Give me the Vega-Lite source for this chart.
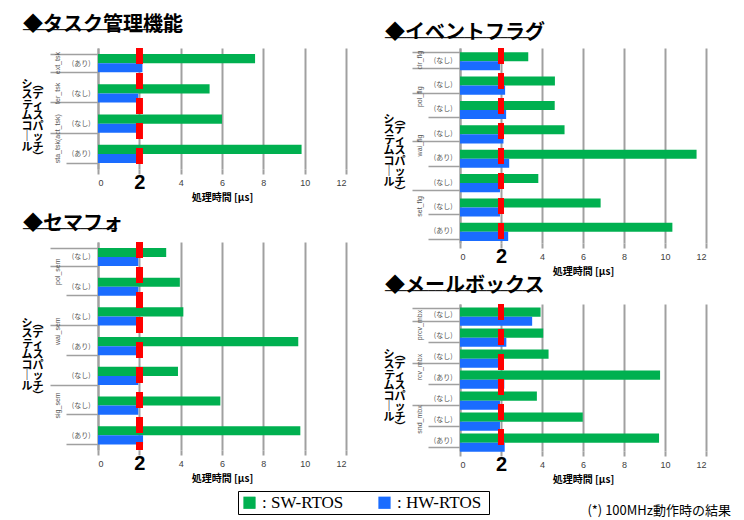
{
  "$schema": "https://vega.github.io/schema/vega-lite/v6.json",
  "padding": {"left": 21, "top": 15, "right": 4, "bottom": 2},
  "background": "white",
  "config": {
    "view": {"stroke": null},
    "font": "Noto Sans CJK JP",
    "title": {"font": "Noto Sans CJK JP", "fontSize": 20, "fontWeight": "bold", "color": "black", "anchor": "start", "frame": "bounds", "dx": 2, "subtitleFont": "DejaVu Sans Mono", "subtitleFontSize": 12, "subtitleColor": "black", "subtitlePadding": -10, "offset": 3},
    "axisX": {"values": [0, 2, 4, 6, 8, 10, 12], "grid": true, "gridColor": "#a0a0a0", "gridWidth": 2, "tickColor": "#a0a0a0", "tickWidth": 2, "tickSize": 5, "domain": false, "labelOverlap": false, "labelFont": "Liberation Sans", "labelFontSize": {"condition": {"test": "datum.value == 2", "value": 20}, "value": 9}, "labelFontWeight": {"condition": {"test": "datum.value == 2", "value": "bold"}, "value": "normal"}, "labelColor": {"condition": {"test": "datum.value == 2", "value": "black"}, "value": "#404040"}, "labelBaseline": "middle", "labelPadding": 8, "titleFontSize": 10, "titleFontWeight": "bold", "titleColor": "black", "titlePadding": 0}
  },
  "data": {"values": [
    {"p": "task", "row": "a*(あり)|ext_tsk", "s": "SW-RTOS", "v": 7.6},
    {"p": "task", "row": "a*(あり)|ext_tsk", "s": "HW-RTOS", "v": 2.15},
    {"p": "task", "row": "b*(なし)|ter_tsk", "s": "SW-RTOS", "v": 5.4},
    {"p": "task", "row": "b*(なし)|ter_tsk", "s": "HW-RTOS", "v": 1.95},
    {"p": "task", "row": "c*(なし)|sta_tsk(act_tsk)", "s": "SW-RTOS", "v": 6.0},
    {"p": "task", "row": "c*(なし)|sta_tsk(act_tsk)", "s": "HW-RTOS", "v": 1.95},
    {"p": "task", "row": "d-(あり)|sta_tsk(act_tsk)", "s": "SW-RTOS", "v": 9.85},
    {"p": "task", "row": "d-(あり)|sta_tsk(act_tsk)", "s": "HW-RTOS", "v": 1.95},

    {"p": "flag", "row": "a*(なし)|clr_flg", "s": "SW-RTOS", "v": 3.33},
    {"p": "flag", "row": "a*(なし)|clr_flg", "s": "HW-RTOS", "v": 1.95},
    {"p": "flag", "row": "b*(なし)|pol_flg", "s": "SW-RTOS", "v": 4.63},
    {"p": "flag", "row": "b*(なし)|pol_flg", "s": "HW-RTOS", "v": 2.2},
    {"p": "flag", "row": "c-(なし)|pol_flg", "s": "SW-RTOS", "v": 4.62},
    {"p": "flag", "row": "c-(なし)|pol_flg", "s": "HW-RTOS", "v": 2.25},
    {"p": "flag", "row": "d*(なし)|wai_flg", "s": "SW-RTOS", "v": 5.1},
    {"p": "flag", "row": "d*(なし)|wai_flg", "s": "HW-RTOS", "v": 2.12},
    {"p": "flag", "row": "e-(あり)|wai_flg", "s": "SW-RTOS", "v": 11.54},
    {"p": "flag", "row": "e-(あり)|wai_flg", "s": "HW-RTOS", "v": 2.4},
    {"p": "flag", "row": "f*(なし)|set_flg", "s": "SW-RTOS", "v": 3.82},
    {"p": "flag", "row": "f*(なし)|set_flg", "s": "HW-RTOS", "v": 1.95},
    {"p": "flag", "row": "g-(なし)|set_flg", "s": "SW-RTOS", "v": 6.86},
    {"p": "flag", "row": "g-(なし)|set_flg", "s": "HW-RTOS", "v": 1.95},
    {"p": "flag", "row": "h-(あり)|set_flg", "s": "SW-RTOS", "v": 10.36},
    {"p": "flag", "row": "h-(あり)|set_flg", "s": "HW-RTOS", "v": 2.35},

    {"p": "sem", "row": "a*(なし)|pol_sem", "s": "SW-RTOS", "v": 3.3},
    {"p": "sem", "row": "a*(なし)|pol_sem", "s": "HW-RTOS", "v": 1.95},
    {"p": "sem", "row": "b-(なし)|pol_sem", "s": "SW-RTOS", "v": 3.96},
    {"p": "sem", "row": "b-(なし)|pol_sem", "s": "HW-RTOS", "v": 1.95},
    {"p": "sem", "row": "c*(なし)|wai_sem", "s": "SW-RTOS", "v": 4.13},
    {"p": "sem", "row": "c*(なし)|wai_sem", "s": "HW-RTOS", "v": 1.95},
    {"p": "sem", "row": "d-(あり)|wai_sem", "s": "SW-RTOS", "v": 9.69},
    {"p": "sem", "row": "d-(あり)|wai_sem", "s": "HW-RTOS", "v": 1.95},
    {"p": "sem", "row": "e*(なし)|sig_sem", "s": "SW-RTOS", "v": 3.87},
    {"p": "sem", "row": "e*(なし)|sig_sem", "s": "HW-RTOS", "v": 1.95},
    {"p": "sem", "row": "f-(なし)|sig_sem", "s": "SW-RTOS", "v": 5.92},
    {"p": "sem", "row": "f-(なし)|sig_sem", "s": "HW-RTOS", "v": 1.95},
    {"p": "sem", "row": "g-(あり)|sig_sem", "s": "SW-RTOS", "v": 9.79},
    {"p": "sem", "row": "g-(あり)|sig_sem", "s": "HW-RTOS", "v": 2.18},

    {"p": "mbx", "row": "a*(なし)|prcv_mbx", "s": "SW-RTOS", "v": 3.93},
    {"p": "mbx", "row": "a*(なし)|prcv_mbx", "s": "HW-RTOS", "v": 3.52},
    {"p": "mbx", "row": "b-(なし)|prcv_mbx", "s": "SW-RTOS", "v": 4.06},
    {"p": "mbx", "row": "b-(なし)|prcv_mbx", "s": "HW-RTOS", "v": 2.26},
    {"p": "mbx", "row": "c*(なし)|rcv_mbx", "s": "SW-RTOS", "v": 4.32},
    {"p": "mbx", "row": "c*(なし)|rcv_mbx", "s": "HW-RTOS", "v": 1.95},
    {"p": "mbx", "row": "d-(あり)|rcv_mbx", "s": "SW-RTOS", "v": 9.76},
    {"p": "mbx", "row": "d-(あり)|rcv_mbx", "s": "HW-RTOS", "v": 2.16},
    {"p": "mbx", "row": "e*(なし)|snd_mbx", "s": "SW-RTOS", "v": 3.75},
    {"p": "mbx", "row": "e*(なし)|snd_mbx", "s": "HW-RTOS", "v": 1.95},
    {"p": "mbx", "row": "f-(なし)|snd_mbx", "s": "SW-RTOS", "v": 5.99},
    {"p": "mbx", "row": "f-(なし)|snd_mbx", "s": "HW-RTOS", "v": 1.95},
    {"p": "mbx", "row": "g-(あり)|snd_mbx", "s": "SW-RTOS", "v": 9.71},
    {"p": "mbx", "row": "g-(あり)|snd_mbx", "s": "HW-RTOS", "v": 2.18}
  ]},
  "hconcat": [
    {"vconcat": [
      {
        "title": {"text": "◆タスク管理機能", "subtitle": "──────────────────────", "offset": 8},
        "transform": [{"filter": "datum.p == 'task'"}],
        "width": 248, "height": 121,
        "resolve": {"axis": {"y": "independent"}},
        "layer": [
          {"mark": "bar", "encoding": {
            "y": {"field": "row", "type": "nominal", "scale": {"paddingInner": 0.4, "paddingOuter": 0.2}, "axis": {"orient": "left", "title": null, "domainColor": "#a0a0a0", "domainWidth": 2, "tickColor": "#a0a0a0", "tickWidth": 1.5, "tickBand": "extent", "tickSize": {"condition": {"test": "!isString(datum.value) || substring(datum.value, 1, 2) == '*'", "value": 48}, "value": 32}, "labelPadding": {"condition": {"test": "!isString(datum.value) || substring(datum.value, 1, 2) == '*'", "value": -40}, "value": -24}, "labelExpr": "substring(split(datum.label, '|')[0], 2)", "labelFontSize": 7, "labelColor": "#555555", "labelAlign": "right", "labelBaseline": "middle"}},
            "yOffset": {"field": "s", "sort": ["SW-RTOS", "HW-RTOS"]},
            "x": {"field": "v", "type": "quantitative", "scale": {"domain": [0, 12]}, "title": "処理時間 [µs]"},
            "color": {"field": "s", "type": "nominal", "sort": ["SW-RTOS", "HW-RTOS"], "scale": {"domain": ["SW-RTOS", "HW-RTOS"], "range": ["#00b050", "#1a6cff"]}, "legend": {"orient": "none", "legendX": 140, "legendY": 443, "direction": "horizontal", "title": null, "symbolType": "square", "symbolSize": 150, "symbolStrokeWidth": 0, "labelFont": "Liberation Serif", "labelFontSize": 17, "labelColor": "black", "strokeColor": "black", "padding": 3, "columnPadding": 28, "labelLimit": 200, "labelExpr": "' :  ' + datum.label"}}
          }},
          {"mark": {"type": "tick", "opacity": 0}, "encoding": {
            "y": {"field": "row", "type": "nominal", "axis": {"orient": "left", "ticks": false, "tickSize": 0, "domain": false, "labelExpr": "indexof(['a','b','c'], substring(datum.label, 0, 1)) >= 0 ? split(datum.label, '|')[1] : ''", "labelAngle": -90, "labelAlign": "center", "labelBaseline": "middle", "labelFont": "Liberation Sans", "labelFontSize": 7, "labelColor": "#555555", "labelPadding": 41, "labelLimit": 200, "labelOffset": {"condition": {"test": "substring(datum.value, 0, 1) == 'c'", "value": 15.1}, "value": 0}, "title": ["シ︵", "スデ", "ティ", "ムス", "コパ", "｜ッ", "ルチ", "　︶"], "titleX": -55, "titleY": 30, "titleAngle": 0, "titleBaseline": "top", "titleAlign": "right", "titleFont": "Noto Sans CJK JP", "titleFontSize": 11, "titleFontWeight": "bold", "titleColor": "black", "titleLineHeight": 10.5}},
            "x": {"datum": 0}
          }},
          {"mark": {"type": "rule", "color": "#ff0000", "strokeWidth": 6, "strokeDash": [16, 9]}, "encoding": {"x": {"datum": 2}}}
        ]
      },
      {
        "title": {"text": "◆セマフォ", "subtitle": "─────────────"},
        "transform": [{"filter": "datum.p == 'sem'"}],
        "width": 248, "height": 208,
        "resolve": {"axis": {"y": "independent"}},
        "layer": [
          {"mark": "bar", "encoding": {
            "y": {"field": "row", "type": "nominal", "scale": {"paddingInner": 0.4, "paddingOuter": 0.2}, "axis": {"orient": "left", "title": null, "domainColor": "#a0a0a0", "domainWidth": 2, "tickColor": "#a0a0a0", "tickWidth": 1.5, "tickBand": "extent", "tickSize": {"condition": {"test": "!isString(datum.value) || substring(datum.value, 1, 2) == '*'", "value": 48}, "value": 32}, "labelPadding": {"condition": {"test": "!isString(datum.value) || substring(datum.value, 1, 2) == '*'", "value": -40}, "value": -24}, "labelExpr": "substring(split(datum.label, '|')[0], 2)", "labelFontSize": 7, "labelColor": "#555555", "labelAlign": "right", "labelBaseline": "middle"}},
            "yOffset": {"field": "s", "sort": ["SW-RTOS", "HW-RTOS"]},
            "x": {"field": "v", "type": "quantitative", "scale": {"domain": [0, 12]}, "title": "処理時間 [µs]"},
            "color": {"field": "s", "type": "nominal", "sort": ["SW-RTOS", "HW-RTOS"], "scale": {"domain": ["SW-RTOS", "HW-RTOS"], "range": ["#00b050", "#1a6cff"]}, "legend": {"orient": "none", "legendX": 140, "legendY": 443, "direction": "horizontal", "title": null, "symbolType": "square", "symbolSize": 150, "symbolStrokeWidth": 0, "labelFont": "Liberation Serif", "labelFontSize": 17, "labelColor": "black", "strokeColor": "black", "padding": 3, "columnPadding": 28, "labelLimit": 200, "labelExpr": "' :  ' + datum.label"}}
          }},
          {"mark": {"type": "tick", "opacity": 0}, "encoding": {
            "y": {"field": "row", "type": "nominal", "axis": {"orient": "left", "ticks": false, "tickSize": 0, "domain": false, "labelExpr": "indexof(['a','c','f'], substring(datum.label, 0, 1)) >= 0 ? split(datum.label, '|')[1] : ''", "labelAngle": -90, "labelAlign": "center", "labelBaseline": "middle", "labelFont": "Liberation Sans", "labelFontSize": 7, "labelColor": "#555555", "labelPadding": 41, "labelLimit": 200, "labelOffset": {"condition": {"test": "indexof(['a','c'], substring(datum.value, 0, 1)) >= 0", "value": 14.85}, "value": 0}, "title": ["シ︵", "スデ", "ティ", "ムス", "コパ", "｜ッ", "ルチ", "　︶"], "titleX": -55, "titleY": 75, "titleAngle": 0, "titleBaseline": "top", "titleAlign": "right", "titleFont": "Noto Sans CJK JP", "titleFontSize": 11, "titleFontWeight": "bold", "titleColor": "black", "titleLineHeight": 10.5}},
            "x": {"datum": 0}
          }},
          {"mark": {"type": "rule", "color": "#ff0000", "strokeWidth": 6, "strokeDash": [16, 9]}, "encoding": {"x": {"datum": 2}}}
        ]
      }
    ], "spacing": 12},
    {"vconcat": [
      {
        "title": {"text": "◆イベントフラグ", "subtitle": "────────────────────", "offset": 0},
        "transform": [{"filter": "datum.p == 'flag'"}],
        "width": 246, "height": 195,
        "resolve": {"axis": {"y": "independent"}},
        "layer": [
          {"mark": "bar", "encoding": {
            "y": {"field": "row", "type": "nominal", "scale": {"paddingInner": 0.34, "paddingOuter": 0.17}, "axis": {"orient": "left", "title": null, "domainColor": "#a0a0a0", "domainWidth": 2, "tickColor": "#a0a0a0", "tickWidth": 1.5, "tickBand": "extent", "tickSize": {"condition": {"test": "!isString(datum.value) || substring(datum.value, 1, 2) == '*'", "value": 48}, "value": 32}, "labelPadding": {"condition": {"test": "!isString(datum.value) || substring(datum.value, 1, 2) == '*'", "value": -40}, "value": -24}, "labelExpr": "substring(split(datum.label, '|')[0], 2)", "labelFontSize": 7, "labelColor": "#555555", "labelAlign": "right", "labelBaseline": "middle"}},
            "yOffset": {"field": "s", "sort": ["SW-RTOS", "HW-RTOS"]},
            "x": {"field": "v", "type": "quantitative", "scale": {"domain": [0, 12]}, "title": "処理時間 [µs]"},
            "color": {"field": "s", "type": "nominal", "sort": ["SW-RTOS", "HW-RTOS"], "scale": {"domain": ["SW-RTOS", "HW-RTOS"], "range": ["#00b050", "#1a6cff"]}, "legend": {"orient": "none", "legendX": 140, "legendY": 443, "direction": "horizontal", "title": null, "symbolType": "square", "symbolSize": 150, "symbolStrokeWidth": 0, "labelFont": "Liberation Serif", "labelFontSize": 17, "labelColor": "black", "strokeColor": "black", "padding": 3, "columnPadding": 28, "labelLimit": 200, "labelExpr": "' :  ' + datum.label"}}
          }},
          {"mark": {"type": "tick", "opacity": 0}, "encoding": {
            "y": {"field": "row", "type": "nominal", "axis": {"orient": "left", "ticks": false, "tickSize": 0, "domain": false, "labelExpr": "indexof(['a','b','d','g'], substring(datum.label, 0, 1)) >= 0 ? split(datum.label, '|')[1] : ''", "labelAngle": -90, "labelAlign": "center", "labelBaseline": "middle", "labelFont": "Liberation Sans", "labelFontSize": 7, "labelColor": "#555555", "labelPadding": 41, "labelLimit": 200, "labelOffset": {"condition": {"test": "indexof(['b','d'], substring(datum.value, 0, 1)) >= 0", "value": 12.2}, "value": 0}, "title": ["シ︵", "スデ", "ティ", "ムス", "コパ", "｜ッ", "ルチ", "　︶"], "titleX": -55, "titleY": 65, "titleAngle": 0, "titleBaseline": "top", "titleAlign": "right", "titleFont": "Noto Sans CJK JP", "titleFontSize": 11, "titleFontWeight": "bold", "titleColor": "black", "titleLineHeight": 10.5}},
            "x": {"datum": 0}
          }},
          {"mark": {"type": "rule", "color": "#ff0000", "strokeWidth": 6, "strokeDash": [16, 9]}, "encoding": {"x": {"datum": 2}}}
        ]
      },
      {
        "title": {"text": "◆メールボックス", "subtitle": "─────────────────────"},
        "transform": [{"filter": "datum.p == 'mbx'"}],
        "width": 246, "height": 147,
        "resolve": {"axis": {"y": "independent"}},
        "layer": [
          {"mark": "bar", "encoding": {
            "y": {"field": "row", "type": "nominal", "scale": {"paddingInner": 0.34, "paddingOuter": 0.17}, "axis": {"orient": "left", "title": null, "domainColor": "#a0a0a0", "domainWidth": 2, "tickColor": "#a0a0a0", "tickWidth": 1.5, "tickBand": "extent", "tickSize": {"condition": {"test": "!isString(datum.value) || substring(datum.value, 1, 2) == '*'", "value": 48}, "value": 32}, "labelPadding": {"condition": {"test": "!isString(datum.value) || substring(datum.value, 1, 2) == '*'", "value": -40}, "value": -24}, "labelExpr": "substring(split(datum.label, '|')[0], 2)", "labelFontSize": 7, "labelColor": "#555555", "labelAlign": "right", "labelBaseline": "middle"}},
            "yOffset": {"field": "s", "sort": ["SW-RTOS", "HW-RTOS"]},
            "x": {"field": "v", "type": "quantitative", "scale": {"domain": [0, 12]}, "title": "処理時間 [µs]"},
            "color": {"field": "s", "type": "nominal", "sort": ["SW-RTOS", "HW-RTOS"], "scale": {"domain": ["SW-RTOS", "HW-RTOS"], "range": ["#00b050", "#1a6cff"]}, "legend": {"orient": "none", "legendX": 140, "legendY": 443, "direction": "horizontal", "title": null, "symbolType": "square", "symbolSize": 150, "symbolStrokeWidth": 0, "labelFont": "Liberation Serif", "labelFontSize": 17, "labelColor": "black", "strokeColor": "black", "padding": 3, "columnPadding": 28, "labelLimit": 200, "labelExpr": "' :  ' + datum.label"}}
          }},
          {"mark": {"type": "tick", "opacity": 0}, "encoding": {
            "y": {"field": "row", "type": "nominal", "axis": {"orient": "left", "ticks": false, "tickSize": 0, "domain": false, "labelExpr": "indexof(['a','c','f'], substring(datum.label, 0, 1)) >= 0 ? split(datum.label, '|')[1] : ''", "labelAngle": -90, "labelAlign": "center", "labelBaseline": "middle", "labelFont": "Liberation Sans", "labelFontSize": 7, "labelColor": "#555555", "labelPadding": 41, "labelLimit": 200, "labelOffset": {"condition": {"test": "indexof(['a','c'], substring(datum.value, 0, 1)) >= 0", "value": 10.5}, "value": 0}, "title": ["シ︵", "スデ", "ティ", "ムス", "コパ", "｜ッ", "ルチ", "　︶"], "titleX": -55, "titleY": 44, "titleAngle": 0, "titleBaseline": "top", "titleAlign": "right", "titleFont": "Noto Sans CJK JP", "titleFontSize": 11, "titleFontWeight": "bold", "titleColor": "black", "titleLineHeight": 10.5}},
            "x": {"datum": 0}
          }},
          {"mark": {"type": "rule", "color": "#ff0000", "strokeWidth": 6, "strokeDash": [16, 9]}, "encoding": {"x": {"datum": 2}}}
        ]
      }
    ], "spacing": 0,
    "title": {"text": "(*) 100MHz動作時の結果", "orient": "bottom", "anchor": "end", "fontSize": 13, "fontWeight": "normal", "font": "Noto Sans CJK JP", "offset": 21, "dx": 24}}
  ],
  "spacing": 36
}
